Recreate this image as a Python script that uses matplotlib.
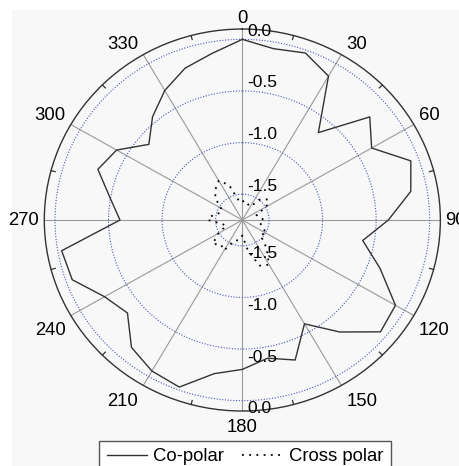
import numpy as np
import matplotlib
matplotlib.use('Agg')
import matplotlib.pyplot as plt
from matplotlib.patches import Rectangle

plt.rcParams['font.family'] = ['Liberation Sans', 'DejaVu Sans']

# measured pattern, degrees / normalised level
angles = np.arange(0, 360, 10)
co_polar = [0.00, -0.065, -0.028, -0.14, -0.645, -0.196, -0.355, -0.075, -0.152,
            -0.386, -0.608, -0.381, -0.098, -0.065, -0.334, -0.589, -0.307, -0.391,
            -0.303, -0.239, -0.028, -0.061, -0.139, -0.349, -0.264, -0.059, -0.036,
            -0.607, -0.494, -0.314, -0.394, -0.61, -0.445, -0.301, -0.185, -0.112]
cross_polar = [-1.57, -1.56, -1.59, -1.60, -1.49, -1.44, -1.49, -1.61, -1.58,
               -1.55, -1.58, -1.55, -1.49, -1.53, -1.40, -1.25, -1.28, -1.45,
               -1.60, -1.55, -1.54, -1.41, -1.44, -1.39, -1.49, -1.59, -1.55,
               -1.43, -1.47, -1.54, -1.52, -1.42, -1.36, -1.31, -1.39, -1.56]

theta_ticks = [0, 30, 60, 90, 120, 150, 180, 210, 240, 270, 300, 330]
theta_labels = [str(t) for t in theta_ticks]
r_ticks = [0.0, -0.5, -1.0, -1.5]
r_labels = ['0.0', '-0.5', '-1.0', '-1.5']
r_min, r_max = -1.75, 0.1

fig = plt.figure(figsize=(4.6, 4.66), dpi=100)
fig.patches.append(Rectangle((12 / 460, 0), 1, 1 - 10 / 466, transform=fig.transFigure,
                             facecolor='#f8f8f8', edgecolor='none', zorder=-10))

ax = fig.add_axes([0.0963, 0.118, 0.861, 0.8197], projection='polar')
ax.set_aspect('auto')
ax.set_facecolor('none')
ax.set_theta_zero_location('N')
ax.set_theta_direction(-1)
ax.set_rlim(r_min, r_max)

ax.set_xticks(np.radians(theta_ticks))
ax.set_xticklabels([])
ax.tick_params(axis='x', which='major', length=0)
ax.xaxis.grid(True, color='#9a9a9a', lw=0.8, ls='-')

ax.set_yticks(r_ticks)
ax.set_yticklabels([])
ax.yaxis.grid(True, color='#4a58b8', lw=0.8, ls=(0, (1, 1.5)))
ax.spines['polar'].set_color('#333333')
ax.spines['polar'].set_linewidth(1.0)

# short inward ticks halfway between the spokes
for t in np.radians(np.array(theta_ticks) + 15):
    ax.plot([t, t], [r_max, r_max - 0.04], color='#333333', lw=0.9, clip_on=False)

# angle labels sit just outside the rim, corner towards the tick
for t, s in zip(theta_ticks, theta_labels):
    sx, sy = np.sin(np.radians(t)), np.cos(np.radians(t))
    if abs(sx) < 0.1:
        ha, dx = 'center', 0
    else:
        ha, dx = ('left', 5) if sx > 0 else ('right', -5)
    if abs(sy) < 0.1:
        va, dy = 'center', 0
    elif sy > 0:
        va, dy = 'baseline', 4 + 2 * abs(sy)
    else:
        va, dy = 'top', -(4 + 4 * abs(sy))
    ax.annotate(s, xy=(np.radians(t), r_max), xytext=(dx, dy),
                textcoords='offset pixels', ha=ha, va=va, fontsize=13.3,
                annotation_clip=False)

th = np.radians(np.append(angles, angles[0]))
ax.plot(th, co_polar + co_polar[:1], color='#333333', lw=1.0, label='Co-polar')
ax.plot(th, cross_polar + cross_polar[:1], color='black', lw=1.3,
        ls=(0, (1, 3)), label='Cross polar')

# radial scale written along the 0 and 180 directions
for v, s in zip(r_ticks, r_labels):
    ax.annotate(s, xy=(0, v), xytext=(5, 8), textcoords='offset pixels',
                ha='left', va='center', fontsize=12.5)
    ax.annotate(s, xy=(np.pi, v), xytext=(5, -8), textcoords='offset pixels',
                ha='left', va='center', fontsize=12.5)

fig.legend(loc='upper center', bbox_to_anchor=(245 / 460, 1 - 441 / 466), ncol=2,
           frameon=True, fancybox=False, edgecolor='#555555', framealpha=1,
           fontsize=13.3, handlelength=2.2, columnspacing=1.0, handletextpad=0.32,
           borderpad=0.4, borderaxespad=0)

fig.savefig('out.png', dpi=100)
